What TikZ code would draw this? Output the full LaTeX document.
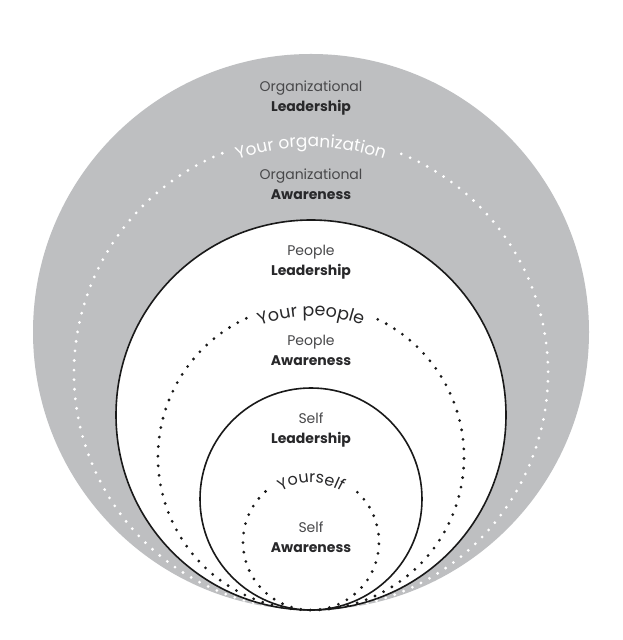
\documentclass[tikz,border=0pt]{standalone}
\usepackage{fontspec}
\setmainfont{Poppins}
\usetikzlibrary{decorations.text}
\definecolor{ringgray}{RGB}{190,191,193}
\definecolor{lbltext}{RGB}{72,72,74}
\definecolor{lblbold}{RGB}{40,40,42}
\definecolor{linedark}{RGB}{25,25,25}
\newcommand{\orgcurvefont}{\fontsize{17}{17}\selectfont}
\newcommand{\pplcurvefont}{\fontsize{17.5}{17.5}\selectfont}
\newcommand{\selfcurvefont}{\fontsize{16}{16}\selectfont}
\tikzset{
  lbl/.style={align=center, font=\fontsize{14}{20}\selectfont, text=lbltext, inner sep=0pt},
  ringline/.style={draw=linedark, line width=1.6pt, fill=white},
  whitedots/.style={draw=white, line width=3.1pt, line cap=round, dash pattern=on 0pt off 9.6pt},
  blackdots/.style={draw=linedark, line width=3.1pt, line cap=round, dash pattern=on 0pt off 9.6pt},
}
\begin{document}
\begin{tikzpicture}[x=1pt,y=1pt]
\useasboundingbox (0,0) rectangle (622,640);
\fill[white] (0,0) rectangle (622,640);
% outer gray disc
\fill[ringgray] (311,308) circle[radius=278pt];
% white dotted organisation circle
\draw[whitedots] (311,267) ++(112:237pt) arc[start angle=112, end angle=428, radius=237pt];
\path[decorate, decoration={text along path, text align=center, text color=white,
  text={|\orgcurvefont|Your organization}}]
  (311,267) ++(140:226pt) arc[start angle=140, end angle=40, radius=226pt];
% people circle
\draw[ringline] (311,225) circle[radius=195pt];
\draw[blackdots] (311,183) ++(115:153pt) arc[start angle=115, end angle=425, radius=153pt];
\path[decorate, decoration={text along path, text align=center, text color=lblbold,
  text={|\pplcurvefont|Your people}}]
  (311,183) ++(150:141pt) arc[start angle=150, end angle=30, radius=141pt];
% self circle
\draw[ringline] (311,141) circle[radius=111pt];
\draw[blackdots] (311,98) ++(132:68pt) arc[start angle=132, end angle=408, radius=68pt];
\path[decorate, decoration={text along path, text align=center, text color=lblbold,
  text={|\selfcurvefont|Yourself}}]
  (311,98) ++(165:59pt) arc[start angle=165, end angle=15, radius=59pt];
% labels
\node[lbl] (orgL) at (311,542) {Organizational\\{\bfseries\color{lblbold}Leadership}};
\node[lbl] (orgA) at (311,455.5) {Organizational\\{\bfseries\color{lblbold}Awareness}};
\node[lbl] (pplL) at (311,377.5) {People\\{\bfseries\color{lblbold}Leadership}};
\node[lbl] (pplA) at (311,289.5) {People\\{\bfseries\color{lblbold}Awareness}};
\node[lbl] (selfL) at (311,209.5) {Self\\{\bfseries\color{lblbold}Leadership}};
\node[lbl] (selfA) at (311,102.5) {Self\\{\bfseries\color{lblbold}Awareness}};
\end{tikzpicture}
\end{document}
